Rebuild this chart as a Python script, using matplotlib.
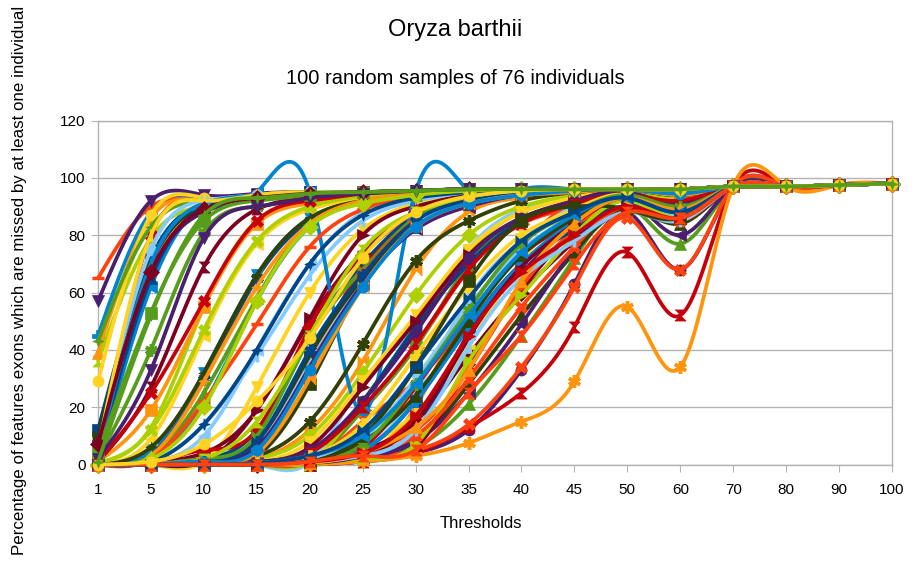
import numpy as np
import matplotlib
matplotlib.use("Agg")
import matplotlib.pyplot as plt

plt.rcParams['font.family'] = ['Liberation Sans', 'DejaVu Sans']

# Threshold categories on the x axis
thresholds = ["1", "5", "10", "15", "20", "25", "30", "35", "40", "45", "50",
              "60", "70", "80", "90", "100"]

# One list per palette colour; series k of the chart is group[k % 12][k // 12]
dark_blue_samples = [
    [12, 72, 91, 94, 95, 95, 95.5, 96, 96, 96, 96, 96, 97, 97, 97.5, 98],
    [0, 4, 30, 65, 85, 92, 94.5, 95.5, 96, 96, 96, 96, 97, 97, 97.5, 98],
    [0, 0, 2, 12, 45, 70, 87, 93, 95, 95.5, 96, 95, 97, 97, 97.5, 98],
    [0, 0, 0, 1, 5, 22, 48, 70, 85, 91, 94.5, 90, 97, 97, 97.5, 98],
    [3, 65, 90, 93.5, 95, 95, 95.5, 96, 96, 96, 96, 96, 97, 97, 97.5, 98],
    [0, 0, 0, 0, 1, 5, 22, 48, 70, 82, 90, 86, 97, 97, 97.5, 98],
    [0, 0, 1, 8, 40, 66, 85, 92, 94.5, 95.5, 96, 94.5, 97, 97, 97.5, 98],
    [0, 1, 14, 40, 70, 87, 93, 95, 96, 96, 96, 96, 97, 97, 97.5, 98],
    [0, 0, 0, 0.5, 3, 12, 34, 58, 78, 88, 93, 88, 97, 97, 97.5, 98],
]
orange_red_samples = [
    [0, 0, 0, 1, 4, 19, 41, 68, 84, 90, 94, 89, 97, 97, 97.5, 98],
    [65, 90, 92, 94, 95, 95, 95.5, 96, 96, 96, 96, 96, 97, 97, 97.5, 98],
    [0, 0, 0, 0, 0, 2, 5, 14, 34, 62, 86, 68, 97, 97, 97.5, 98],
    [0, 0, 0, 0, 1, 15, 29, 51, 76, 91, 92, 92, 97, 97, 97.5, 98],
    [0, 0, 0, 0.5, 2, 5, 12, 33, 62, 82, 93, 89, 97, 97, 97.5, 98],
    [0, 0, 1, 5, 35, 66, 85, 92, 94.5, 95.5, 96, 95, 97, 97, 97.5, 98],
    [0, 2, 22, 49, 76, 89, 94, 95.5, 96, 96, 96, 96, 97, 97, 97.5, 98],
    [0, 0, 0, 0, 0.5, 4, 10, 30, 55, 76, 90, 85, 97, 97, 97.5, 98],
    [0, 0, 0, 0, 1, 3, 5, 25, 45, 70, 88, 86, 97, 97, 97.5, 98],
]
yellow_samples = [
    [0, 0, 1, 27, 60, 82, 91, 94.5, 96, 96, 96, 96, 97, 97, 97.5, 98],
    [0, 0, 0, 5, 30, 64, 84, 92, 94.5, 95.5, 96, 95, 97, 97, 97.5, 98],
    [0, 0, 0, 0, 0.5, 6, 18, 41, 71, 88, 94, 90, 97, 97, 97.5, 98],
    [29, 87, 93, 94, 95, 95, 95.5, 96, 96, 96, 96, 96, 97, 97, 97.5, 98],
    [0, 9, 45, 77, 89, 93, 95, 95.5, 96, 96, 96, 96, 97, 97, 97.5, 98],
    [0, 0, 0, 1, 8, 29, 52, 75, 88, 93, 95, 91, 97, 97, 97.5, 98],
    [5, 80, 92, 94, 95, 95, 95.5, 96, 96, 96, 96, 96, 97, 97, 97.5, 98],
    [0, 0, 0, 0.5, 3, 14, 38, 62, 80, 89, 94, 88, 97, 97, 97.5, 98],
    [0, 1, 7, 22, 44, 72, 88, 93.5, 95.5, 96, 96, 96, 97, 97, 97.5, 98],
]
green_samples = [
    [0, 0, 0, 0, 0, 2, 6, 21, 45, 72, 90, 77, 97, 97, 97.5, 98],
    [0, 0, 0, 0, 1, 19, 41, 70, 86, 92, 95, 91, 97, 97, 97.5, 98],
    [2, 40, 81, 90, 93.5, 95, 95.5, 96, 96, 96, 96, 96, 97, 97, 97.5, 98],
    [43, 83, 92, 94, 95, 95, 95.5, 96, 96, 96, 96, 96, 97, 97, 97.5, 98],
    [0, 0, 2, 10, 44, 68, 86, 92, 95, 95.5, 96, 95, 97, 97, 97.5, 98],
    [0, 3, 25, 58, 84, 91, 94, 95.5, 96, 96, 96, 96, 97, 97, 97.5, 98],
    [4, 53, 85, 92, 94, 95, 95.5, 96, 96, 96, 96, 96, 97, 97, 97.5, 98],
    [0, 0, 0, 0, 1, 7, 28, 54, 77, 88, 94, 90, 97, 97, 97.5, 98],
    [1, 52, 87, 93, 94.5, 95, 95.5, 96, 96, 96, 96, 96, 97, 97, 97.5, 98],
]
dark_red_samples = [
    [0, 0, 1, 19, 51, 80, 90, 94, 95.5, 96, 96, 96, 97, 97, 97.5, 98],
    [0, 0, 0, 0, 0.5, 5, 15, 38, 60, 78, 90, 86, 97, 97, 97.5, 98],
    [0, 1, 4, 19, 50, 74, 88, 93, 95, 95.5, 96, 95, 97, 97, 97.5, 98],
    [0, 0, 0, 0, 0, 2, 6, 34, 61, 82, 93, 88, 97, 97, 97.5, 98],
    [1, 27, 69, 89, 93, 94.5, 95.5, 96, 96, 96, 96, 96, 97, 97, 97.5, 98],
    [0, 0, 0, 1, 6, 27, 50, 73, 86, 92, 95, 90, 97, 97, 97.5, 98],
    [7, 67, 89, 93, 94.5, 95, 95.5, 96, 96, 96, 96, 96, 97, 97, 97.5, 98],
    [0, 0, 0, 0, 0.5, 3, 15, 44, 69, 84, 93, 88, 97, 97, 97.5, 98],
]
light_blue_samples = [
    [0, 1, 10, 40, 70, 88, 94, 95.5, 96, 96, 96, 96, 97, 97, 97.5, 98],
    [0, 0, 0, 0, 1, 29, 48, 75, 89, 94, 95.5, 93, 97, 97, 97.5, 98],
    [0, 1, 14, 38, 66, 85, 92, 95, 96, 96, 96, 96, 97, 97, 97.5, 98],
    [0, 0, 0, 0, 1, 5, 25, 58, 78, 90, 94, 91, 97, 97, 97.5, 98],
    [6, 75, 92, 94, 95, 95, 95.5, 96, 96, 96, 96, 96, 97, 97, 97.5, 98],
    [0, 0, 1, 6, 37, 64, 84, 91, 94, 95.5, 96, 94.5, 97, 97, 97.5, 98],
    [0, 0, 0, 0, 2, 9, 30, 55, 75, 87, 93, 87, 97, 97, 97.5, 98],
    [0, 0, 0, 0, 0.5, 3, 12, 41, 65, 78, 88, 85, 97, 97, 97.5, 98],
]
dark_olive_samples = [
    [10, 70, 90, 93, 94.5, 95, 95.5, 96, 96, 96, 96, 96, 97, 97, 97.5, 98],
    [0, 0, 0, 0, 0, 3, 8, 28, 52, 74, 89, 84, 97, 97, 97.5, 98],
    [0, 0, 0.5, 3, 28, 63, 83, 91, 94, 95.5, 96, 95, 97, 97, 97.5, 98],
    [0, 0, 0.5, 3, 15, 42, 71, 85, 92, 95, 96, 94, 97, 97, 97.5, 98],
    [0, 6, 32, 66, 86, 92, 94.5, 95.5, 96, 96, 96, 96, 97, 97, 97.5, 98],
    [0, 0, 0.5, 8, 38, 65, 83, 91, 94, 95, 96, 94, 97, 97, 97.5, 98],
    [0, 0, 0, 0, 0.5, 8, 24, 50, 73, 86, 93, 88, 97, 97, 97.5, 98],
    [0, 0, 0, 0, 1, 10, 34, 64, 85, 90, 89, 86, 97, 97, 97.5, 98],
]
lime_samples = [
    [36, 79, 90, 93, 94.5, 95, 95.5, 96, 96, 96, 96, 96, 97, 97, 97.5, 98],
    [0, 0, 0, 0, 1, 22, 48, 74, 88, 93, 95, 92, 97, 97, 97.5, 98],
    [0, 0, 0, 2, 10, 32, 59, 80, 90, 94, 95.5, 93, 97, 97, 97.5, 98],
    [0.5, 13, 55, 85, 92, 94.5, 95.5, 96, 96, 96, 96, 96, 97, 97, 97.5, 98],
    [0.5, 12, 47, 78, 90, 93.5, 95, 95.5, 96, 96, 96, 96, 97, 97, 97.5, 98],
    [0, 0, 2, 15, 45, 75, 88, 93, 95, 95.5, 96, 95, 97, 97, 97.5, 98],
    [0, 0, 0, 0, 0, 2, 7, 36, 59, 80, 92, 86, 97, 97, 97.5, 98],
    [0, 2, 20, 57, 83, 91, 94, 95.5, 96, 96, 96, 96, 97, 97, 97.5, 98],
]
purple_samples = [
    [0, 0, 0, 0, 0, 1, 4, 12, 33, 63, 88, 68, 97, 97, 97.5, 98],
    [0, 0, 0, 0, 0.5, 2, 8, 25, 49, 76, 92, 80, 97, 97, 97.5, 98],
    [57, 92, 94, 94.5, 95, 95, 95.5, 96, 96, 96, 96, 96, 97, 97, 97.5, 98],
    [0, 0, 0, 0, 0.5, 3, 11, 46, 67, 85, 93, 89, 97, 97, 97.5, 98],
    [8, 67, 88, 93, 94.5, 95, 95.5, 96, 96, 96, 96, 96, 97, 97, 97.5, 98],
    [0, 0, 0, 1, 5, 22, 46, 72, 86, 92, 95, 91, 97, 97, 97.5, 98],
    [0, 0, 0.5, 6, 34, 63, 82, 90, 94, 95, 96, 94, 97, 97, 97.5, 98],
    [2, 33, 79, 90, 93, 94.5, 95.5, 96, 96, 96, 96, 96, 97, 97, 97.5, 98],
]
orange_samples = [
    [0, 0, 0, 0, 0.5, 4, 20, 57, 78, 90, 94, 91, 97, 97, 97.5, 98],
    [0, 0, 0.5, 2, 12, 36, 68, 88, 93, 95, 95.5, 93, 97, 97, 97.5, 98],
    [39, 86, 92, 94, 95, 95, 95.5, 96, 96, 96, 96, 96, 97, 97, 97.5, 98],
    [1, 19, 55, 84, 91, 94, 95, 95.5, 96, 96, 96, 96, 97, 97, 97.5, 98],
    [0, 0, 0, 0, 0, 1, 3, 7.5, 15, 29, 55, 34, 97, 97, 97.5, 98],
    [0, 3, 29, 62, 84, 92, 94.5, 95.5, 96, 96, 96, 96, 97, 97, 97.5, 98],
    [0, 0, 1, 4, 30, 62, 83, 91, 94, 95, 96, 94, 97, 97, 97.5, 98],
    [0, 0, 0, 0, 0.5, 4, 13, 33, 64, 84, 93, 89, 97, 97, 97.5, 98],
]
red_samples = [
    [2, 80, 92, 94, 95, 95, 95.5, 96, 96, 96, 96, 96, 97, 97, 97.5, 98],
    [0, 0, 0, 0, 0, 1, 4, 13, 25, 48, 74, 52, 97, 97, 97.5, 98],
    [0, 0, 1, 7, 37, 68, 85, 92, 94.5, 95.5, 96, 95, 97, 97, 97.5, 98],
    [0, 0.5, 5, 12, 48, 73, 88, 93, 95, 95.5, 96, 95, 97, 97, 97.5, 98],
    [0, 0, 0, 0, 1, 6, 27, 52, 73, 85, 92, 88, 97, 97, 97.5, 98],
    [1, 25, 57, 85, 92, 94.5, 95.5, 96, 96, 96, 96, 96, 97, 97, 97.5, 98],
    [0, 0, 0, 0.5, 4, 20, 42, 68, 84, 91, 94, 92, 97, 97, 97.5, 98],
    [0, 0, 0, 0, 1, 4, 17, 45, 67, 80, 90, 86, 97, 97, 97.5, 98],
]
blue_samples = [
    [45, 88, 93, 94, 95, 95, 95.5, 96, 96, 96, 96, 96, 97, 97, 97.5, 98],
    [0, 2, 21, 57, 83, 92, 94.5, 95.5, 96, 96, 96, 96, 97, 97, 97.5, 98],
    [1, 62, 90, 95, 95, 18, 95, 95.5, 96, 96, 96, 96, 97, 97, 97.5, 98],
    [0, 5, 32, 66, 86, 92, 94.5, 95.5, 96, 96, 96, 96, 97, 97, 97.5, 98],
    [3, 70, 91, 94, 95, 95, 95.5, 96, 96, 96, 96, 96, 97, 97, 97.5, 98],
    [0, 0, 0, 0, 1, 5, 22, 48, 70, 85, 92, 88, 97, 97, 97.5, 98],
    [0, 0, 1, 5, 33, 62, 83, 91, 94, 95.5, 96, 94.5, 97, 97, 97.5, 98],
    [0, 0, 0, 0.5, 3, 10, 28, 52, 74, 87, 93, 88, 97, 97, 97.5, 98],
]

groups = [dark_blue_samples, orange_red_samples, yellow_samples, green_samples,
          dark_red_samples, light_blue_samples, dark_olive_samples, lime_samples,
          purple_samples, orange_samples, red_samples, blue_samples]
palette = ['#004586', '#ff420e', '#ffd320', '#579d1c', '#7e0021', '#83caff',
           '#314004', '#aecf00', '#4b1f6f', '#ff950e', '#c5000b', '#0084d1']

# LibreOffice-like symbol cycle
bowtie = [(-1, -1), (-1, 1), (0, 0), (1, 1), (1, -1), (0, 0)]
hourglass = [(-1, 1), (1, 1), (0, 0), (1, -1), (-1, -1), (0, 0)]
star4 = [(0, 1), (0.28, 0.28), (1, 0), (0.28, -0.28), (0, -1), (-0.28, -0.28),
         (-1, 0), (-0.28, 0.28)]
symbols = ['s', 'D', 'v', '^', '>', '<', bowtie, hourglass, 'o', star4,
           'X', 'P', (6, 2, 0), '_', '|']


def natural_spline(y, steps=24):
    y = np.asarray(y, float)
    n = len(y)
    A = np.zeros((n, n))
    r = np.zeros(n)
    A[0, 0] = A[-1, -1] = 1
    for i in range(1, n - 1):
        A[i, i - 1], A[i, i], A[i, i + 1] = 1, 4, 1
        r[i] = 6 * (y[i + 1] - 2 * y[i] + y[i - 1])
    m = np.linalg.solve(A, r)
    t = np.linspace(0, n - 1, (n - 1) * steps + 1)
    k = np.minimum(t.astype(int), n - 2)
    u = t - k
    yy = ((1 - u) * y[k] + u * y[k + 1]
          + ((1 - u) ** 3 - (1 - u)) * m[k] / 6 + (u ** 3 - u) * m[k + 1] / 6)
    return t, yy


fig = plt.figure(figsize=(9.22, 5.61), dpi=100)
ax = fig.add_axes([98 / 922, 1 - 464.5 / 561, (892 - 98) / 922, 344 / 561])

xs = np.arange(len(thresholds))
n_series = sum(len(g) for g in groups)
for i in range(n_series):
    c = i % 12
    row = groups[c][i // 12]
    color = palette[c]
    sym = symbols[i % 15]
    t, yy = natural_spline(row)
    z = 3 + i * 0.01
    ax.plot(t, yy, color=color, lw=2.7, zorder=z, clip_on=False,
            solid_capstyle='round')
    thin = sym in ('_', '|', (6, 2, 0))
    ax.plot(xs, row, linestyle='none', marker=sym, markersize=9 if thin else 8,
            markerfacecolor=color, markeredgecolor=color,
            markeredgewidth=2.5 if thin else 0.5, zorder=z + 0.005, clip_on=False)

ax.set_xlim(0, 15)
ax.set_ylim(0, 120)
ax.set_xticks(xs)
ax.set_xticklabels(thresholds)
ax.set_yticks(range(0, 121, 20))
ax.grid(axis='y', color='#b3b3b3', lw=1)
ax.set_axisbelow(True)
for s in ax.spines.values():
    s.set_color('#b3b3b3')
    s.set_linewidth(1)
ax.tick_params(axis='both', direction='out', length=5, color='#b3b3b3',
               labelsize=11, labelcolor='#000000')
ax.tick_params(axis='x', pad=8)
ax.tick_params(axis='y', pad=4)

fig.text(455 / 922, 1 - 30 / 561, 'Oryza barthii', ha='center', va='center',
         fontsize=17)
fig.text(455 / 922, 1 - 78 / 561, '100 random samples of 76 individuals',
         ha='center', va='center', fontsize=14.5)
fig.text(481 / 922, 1 - 523 / 561, 'Thresholds', ha='center', va='center',
         fontsize=12)
fig.text(20 / 922, 1 - 280 / 561,
         'Percentage of features exons which are missed by at least one individual',
         ha='center', va='center', rotation=90, fontsize=12.2)

fig.savefig('out.png', dpi=100)
